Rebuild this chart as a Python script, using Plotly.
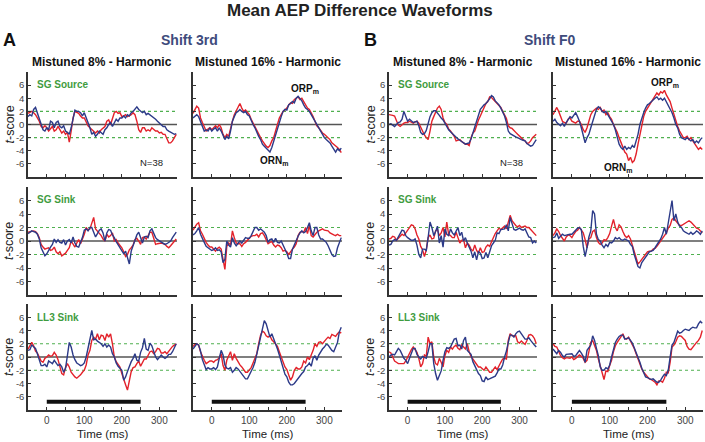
import plotly.graph_objects as go

W, H = 705, 442

# time axis of the difference waveforms (ms re: stimulus onset)
TIME_MS = list(range(-50, 350, 5))

# ---- Shift 3rd : SG Source ----
s3_m8_src_red = [1.7, 1.9, 2.0, 1.8, 1.5, 1.0, 0.5, -0.3, -0.5, -0.2,
                 -0.5, -1.0, -0.6, -0.3, -1.0, -0.8, -0.3, -0.8, -1.3, -1.0,
                 -1.5, -1.2, -2.7, -1.0, 1.0, 2.0, 1.8, 1.7, 1.3, 1.0,
                 1.0, 0.3, -0.2, -0.5, -0.8, -1.0, -1.3, -1.0, -1.3, -0.8,
                 -0.5, -0.3, 0.5, 0.7, 0.0, 1.0, 1.8, 2.0, 1.7, 1.8,
                 1.2, 1.3, 1.5, 1.2, 1.3, 1.5, 1.8, 1.5, 0.5, -0.8,
                 -1.2, -0.5, -0.5, -1.0, -0.8, -1.0, -0.5, -0.8, -1.0, -1.0,
                 -1.3, -1.2, -1.5, -1.5, -2.2, -2.8, -2.8, -2.5, -2.0, -1.5]
s3_m8_src_blue = [1.2, 1.5, 1.3, 2.3, 2.6, 1.8, 0.8, 0.2, -0.8, -1.0,
                  -0.5, -0.8, 0.5, 0.3, -0.5, 0.3, 0.5, -0.3, -0.5, -0.2,
                  -1.0, -1.2, -1.5, -0.5, 1.0, 2.2, 2.0, 2.0, 1.8, 1.3,
                  1.8, 1.0, 0.5, -0.5, -1.5, -1.2, -1.8, -1.5, -1.0, -1.2,
                  -1.5, -0.8, -0.5, 0.0, 0.3, -0.3, 0.3, 0.8, 0.5, 1.0,
                  1.0, 1.3, 1.0, 1.5, 1.3, 1.8, 2.0, 2.3, 2.7, 2.3,
                  2.0, 1.8, 2.0, 1.5, 1.7, 1.5, 1.3, 1.0, 0.8, 0.5,
                  0.2, 0.0, -0.3, -0.3, -0.8, -1.0, -1.2, -1.3, -1.5, -1.4]
s3_m16_src_red = [1.7, 2.3, 2.8, 2.5, 1.0, 0.3, -0.5, -1.0, -0.7, -0.5,
                  -0.8, -0.5, -0.2, -0.5, 0.0, -0.5, -1.5, -2.0, -1.5, -1.8,
                  -0.5, 0.5, 1.5, 2.0, 2.5, 3.2, 2.5, 2.0, 2.2, 1.8,
                  1.5, 0.8, 0.2, -0.3, -0.8, -1.5, -2.0, -2.5, -3.0, -3.3,
                  -3.5, -3.2, -2.5, -2.0, -1.0, 0.0, 1.0, 1.5, 2.0, 2.2,
                  2.5, 3.0, 3.3, 3.2, 3.8, 4.0, 4.2, 3.8, 4.0, 3.5,
                  3.0, 2.5, 2.3, 1.8, 1.2, 0.5, -0.2, -0.5, -1.0, -1.3,
                  -1.5, -1.8, -2.0, -2.3, -2.8, -3.0, -3.2, -3.5, -3.8, -4.3]
s3_m16_src_blue = [1.0, 1.3, 1.5, 1.2, 0.5, -0.3, -1.0, -0.8, -1.0, -0.5,
                   -1.0, -0.7, -0.5, -1.0, -0.5, -1.0, -1.8, -2.3, -1.8, -2.2,
                   -1.0, 0.5, 1.2, 1.8, 2.0, 2.3, 2.0, 1.8, 2.0, 1.5,
                   1.3, 0.5, 0.0, -0.5, -1.2, -1.8, -2.3, -3.0, -3.3, -3.6,
                   -3.8, -4.2, -3.5, -2.5, -1.5, -0.5, 0.5, 1.2, 2.0, 2.3,
                   2.2, 3.0, 3.2, 3.5, 3.3, 4.0, 4.3, 4.0, 3.6, 3.0,
                   2.5, 2.3, 2.0, 1.5, 1.0, 0.3, 0.0, -0.5, -1.0, -1.5,
                   -2.0, -2.3, -2.5, -2.8, -3.3, -3.8, -4.2, -3.7, -4.0, -3.6]

# ---- Shift F0 : SG Source ----
f0_m8_src_red = [1.5, 1.5, 1.4, 1.3, 0.6, -0.1, -0.3, 0.0, 0.2, 0.3,
                 0.3, 0.5, 0.3, 0.2, 0.4, 0.5, 0.2, -0.5, -1.2, -1.6,
                 -2.0, -2.3, -1.0, 0.5, 1.2, 1.8, 2.5, 2.8, 2.3, 1.0,
                 0.3, 0.0, -0.7, -1.0, -1.4, -1.8, -2.5, -2.4, -2.3, -2.6,
                 -2.8, -3.0, -3.0, -3.2, -2.0, -1.3, -1.0, 0.0, 0.7, 1.3,
                 2.0, 2.8, 3.2, 3.5, 4.2, 4.1, 3.8, 3.6, 3.3, 3.0,
                 2.6, 2.0, 1.5, 0.9, -0.2, -0.5, -0.6, -1.0, -1.2, -1.5,
                 -1.8, -2.0, -2.3, -2.5, -2.9, -2.8, -2.5, -2.0, -1.7, -1.5]
f0_m8_src_blue = [0.0, 0.1, -0.1, -0.3, 0.0, 0.3, 0.4, 0.8, 2.0, 1.2,
                  0.5, 0.8, 0.6, 0.3, 0.4, 0.5, -0.2, -1.2, -1.5, -1.4,
                  -0.9, 0.3, 1.2, 1.8, 2.1, 2.1, 1.8, 1.4, 1.0, 0.7,
                  0.2, -0.4, -0.8, -1.1, -1.4, -1.7, -2.0, -2.2, -2.4, -2.6,
                  -2.9, -3.0, -2.9, -2.8, -2.2, -1.2, -0.3, 0.5, 1.4, 2.3,
                  2.7, 3.0, 3.2, 3.5, 3.9, 4.4, 4.2, 3.6, 3.3, 3.0,
                  2.5, 2.0, 1.3, 0.3, -1.0, -1.4, -1.6, -1.8, -1.9, -2.0,
                  -2.2, -2.3, -2.4, -2.5, -2.9, -3.1, -3.3, -3.2, -2.8, -2.3]
f0_m16_src_red = [1.5, 2.0, 2.6, 2.0, 1.2, 0.5, 0.3, 0.2, 0.8, 1.0,
                  0.5, 0.3, 0.2, 0.5, 0.5, 0.0, -0.8, -1.2, -0.5, 0.5,
                  1.5, 2.0, 2.3, 2.5, 2.3, 2.6, 2.0, 2.2, 1.5, 1.8,
                  1.2, 0.8, 0.0, -0.5, -1.2, -2.0, -2.8, -3.5, -4.2, -4.5,
                  -5.5, -5.0, -5.8, -5.5, -4.5, -3.0, -1.5, 0.0, 1.2, 2.0,
                  2.5, 3.0, 3.5, 3.8, 4.3, 4.8, 4.5, 5.0, 4.8, 5.2,
                  4.5, 4.0, 3.5, 2.5, 1.5, 0.5, -0.3, -1.0, -1.5, -2.0,
                  -2.0, -1.8, -2.3, -2.0, -2.5, -3.0, -3.3, -3.8, -3.5, -3.8]
f0_m16_src_blue = [0.5, 0.8, 0.3, 0.0, -0.2, 0.2, -0.3, 0.3, 0.8, 1.2,
                   1.0, 1.5, 1.8, 1.2, 0.5, -0.5, -1.8, -2.8, -2.0, -1.5,
                   -0.5, 0.5, 1.5, 2.3, 2.7, 2.5, 2.0, 1.8, 2.0, 1.5,
                   1.0, 0.5, 0.0, -0.8, -2.0, -3.0, -3.5, -3.8, -3.3, -3.8,
                   -3.5, -3.7, -3.2, -3.5, -2.5, -1.5, 0.0, 1.0, 1.8, 2.5,
                   3.0, 3.2, 3.5, 3.8, 4.0, 4.2, 3.8, 4.0, 3.7, 4.0,
                   3.5, 3.0, 2.5, 1.8, 1.0, 0.0, -0.5, -1.5, -2.0, -2.2,
                   -2.3, -2.0, -2.3, -2.5, -2.3, -2.8, -2.5, -2.8, -2.3, -2.0]

# ---- Shift 3rd : SG Sink ----
s3_m8_snk_red = [1.3, 1.4, 1.5, 1.5, 1.4, 1.1, 0.5, -0.5, -0.9, -1.2,
                 -1.1, -1.0, -1.4, -1.3, -0.9, -1.6, -1.9, -1.6, -2.2, -2.0,
                 -1.8, -1.4, -1.0, 0.0, -0.4, -0.9, -0.3, 0.2, -0.4, 0.2,
                 1.0, 2.0, 1.6, 1.8, 2.5, 3.5, 1.8, 1.5, 1.2, 0.8,
                 0.3, 0.0, 1.0, 0.6, 0.8, 1.2, 0.0, 0.2, -0.3, -0.6,
                 -1.0, -1.6, -2.3, -2.0, -1.3, -1.0, -0.6, 0.2, 0.4, 0.0,
                 -0.5, 0.5, 0.6, 0.3, 0.9, 1.3, 1.3, 0.5, -0.5, -0.4,
                 -0.3, -0.3, -0.4, -0.5, -0.8, -1.0, -0.7, -0.4, 0.0, 0.3]
s3_m8_snk_blue = [1.1, 1.3, 1.5, 1.4, 1.3, 1.0, 0.3, -1.0, -1.6, -2.2,
                  -1.9, -1.3, -0.9, -0.5, 0.3, -0.2, 0.2, -0.2, -0.3, 0.2,
                  -0.6, 0.0, 0.2, -0.3, 0.6, -0.3, -0.8, -0.9, -0.2, 0.5,
                  1.6, 1.8, 1.5, 2.0, 2.0, 1.3, 0.6, 1.1, 1.6, 1.8,
                  1.2, 0.0, 1.2, 1.7, 1.6, 0.9, 0.5, -0.1, -0.6, -1.1,
                  -1.5, -1.9, -1.5, -2.5, -3.4, -1.5, -0.7, 0.2, 0.9, 1.3,
                  0.4, -0.3, 0.6, 0.7, 0.5, 1.5, 1.8, 1.1, 0.5, 0.2,
                  0.0, -0.2, -0.4, -0.5, -0.4, -0.2, 0.0, 0.5, 1.0, 1.3]
s3_m16_snk_red = [1.6, 2.0, 2.5, 2.7, 1.5, 1.0, 0.3, -0.2, -0.6, -0.9,
                  -0.9, -1.2, -1.5, -1.1, -0.9, -1.2, -2.5, -4.2, -0.8, -0.3,
                  -0.6, 1.5, 0.5, -0.3, -0.4, -0.4, -0.8, -0.4, -0.2, 0.1,
                  0.3, 0.7, 0.8, 0.8, 1.0, 0.6, 1.1, 1.2, 0.8, 0.2,
                  -0.4, -0.2, -0.1, -0.6, -0.9, -0.6, -0.7, -1.0, -1.5, -1.4,
                  -1.6, -2.0, -1.5, -1.2, -0.9, -0.4, 0.8, 1.3, 1.4, 1.3,
                  2.0, 1.1, 2.3, 0.8, 0.6, 1.0, 1.3, 1.5, 1.6, 1.8,
                  1.6, 1.5, 1.5, 1.2, 1.0, 0.9, 0.8, 1.0, 0.8, 0.8]
s3_m16_snk_blue = [0.9, 1.1, 1.5, 2.0, 1.0, 0.5, -0.2, -0.8, -1.0, -1.2,
                   -1.4, -1.3, -1.0, -1.4, -1.3, -1.6, -3.2, -2.7, 0.0, -0.6,
                   -0.9, 0.5, -0.3, -0.7, -0.4, 0.0, -0.3, 0.2, 0.5, 0.4,
                   0.4, 0.8, 1.5, 2.0, 2.0, 1.6, 1.8, 1.6, 1.3, 0.8,
                   -0.2, 0.2, 0.3, -0.2, 0.4, -0.2, -0.3, 0.0, -0.6, -1.1,
                   -1.8, -2.6, -2.6, -1.2, -0.5, -0.1, 0.7, 1.2, 1.5, 1.2,
                   1.4, 2.0, 2.7, 1.5, 0.8, 2.0, 2.0, 0.9, 0.3, 0.3,
                   0.1, -0.2, -0.7, -1.5, -2.0, -2.3, -2.2, -1.0, -0.1, 0.5]

# ---- Shift F0 : SG Sink ----
f0_m8_snk_red = [0.3, 0.4, 0.7, 0.6, 0.1, 0.4, 0.7, 1.0, 0.8, 1.2,
                 1.7, 2.1, 2.4, 2.3, 1.8, 0.9, 0.3, -0.8, -1.3, -2.3,
                 -1.3, 0.5, 0.9, 0.3, 0.4, 1.5, 1.7, 0.8, 1.2, 2.0,
                 0.6, 2.8, 1.0, 0.8, 0.5, 0.5, 1.3, 0.5, -0.3, 0.1,
                 0.2, -1.0, -0.3, -0.6, -1.2, -1.5, -0.6, -1.4, -1.8, -1.0,
                 -1.7, -1.6, -0.9, -0.6, -0.8, -0.1, 0.6, 1.1, 1.5, 1.9,
                 1.7, 2.0, 2.2, 1.8, 3.0, 3.8, 3.0, 2.6, 2.3, 2.1,
                 2.3, 2.0, 2.1, 2.2, 2.0, 2.0, 1.7, 1.4, 1.2, 0.8]
f0_m8_snk_blue = [-0.6, -0.5, 0.0, 0.2, 0.1, 0.6, 1.1, 1.6, 1.5, 0.8,
                  0.5, 0.3, 0.1, 0.1, 0.3, -0.6, -2.0, -2.5, -1.2, -1.2,
                  -1.4, 0.5, 2.8, 2.0, 0.8, 1.4, 2.2, -0.3, 0.8, -0.9,
                  1.8, 1.0, 0.8, 1.8, 1.2, 0.9, 1.6, 2.0, 0.8, 1.3,
                  0.0, 0.5, -0.3, -0.8, -1.5, -2.5, -1.6, -2.8, -1.6, -1.8,
                  -2.6, -2.5, -1.7, -2.5, -1.4, -0.7, -0.3, 0.1, 1.2, 1.1,
                  1.7, 1.8, 1.8, 2.4, 1.5, 3.5, 2.5, 1.7, 1.6, 1.8,
                  1.9, 1.7, 1.6, 1.8, 1.1, 0.6, 0.5, -0.3, 0.0, -0.3]
f0_m16_snk_red = [0.8, 1.2, 1.8, 1.4, 0.8, 0.3, 0.0, 0.6, 0.9, 0.8,
                  0.5, 1.0, 1.4, 1.6, 2.0, 1.6, 1.2, 0.2, -1.0, 0.3,
                  0.5, 1.4, 1.6, 0.5, -0.2, -0.5, -0.3, 0.2, 0.1, 0.5,
                  1.1, 2.2, 3.2, 2.0, 1.5, 2.4, 2.1, 1.4, 0.8, 0.5,
                  0.8, 0.3, -0.6, -1.6, -2.4, -3.4, -3.1, -2.7, -2.4, -2.0,
                  -1.6, -1.5, -1.5, -1.2, -1.1, -0.8, -0.4, 0.0, 0.4, 0.8,
                  1.2, 1.9, 2.3, 3.2, 3.4, 3.0, 2.6, 2.3, 2.3, 2.5,
                  2.7, 2.9, 3.0, 2.8, 2.5, 2.3, 1.9, 1.8, 1.5, 1.2]
f0_m16_snk_blue = [0.5, 0.6, 1.2, 0.4, 0.7, 1.0, 0.8, 0.9, 1.0, 1.0,
                   1.0, 1.3, 1.6, 1.9, 2.0, 1.7, -0.8, -2.3, -1.0, 0.6,
                   1.5, 4.5, 4.0, 1.0, 0.2, 0.0, -0.6, -1.0, -0.5, -0.8,
                   -0.2, -0.3, 0.0, 0.5, 0.3, 0.5, 0.2, 0.1, 0.3, 0.2,
                   0.0, -0.5, -0.8, -2.0, -3.0, -3.8, -4.0, -3.2, -2.8, -2.3,
                   -2.0, -1.6, -1.5, -1.4, -1.0, -0.6, -0.2, 0.3, 1.0, 2.0,
                   1.0, 2.8, 4.0, 6.0, 3.0, 4.0, 2.8, 2.2, 2.0, 1.5,
                   1.3, 1.1, 1.0, 1.3, 1.0, 1.2, 1.5, 1.3, 1.0, 1.5]

# ---- Shift 3rd : LL3 Sink ----
s3_m8_ll3_red = [1.2, 1.7, 2.2, 1.7, 0.9, 0.6, -0.1, -0.6, -0.8, -0.2,
                 0.0, 0.3, 0.1, 0.2, 0.7, 0.3, -0.4, -1.3, -2.5, -2.7,
                 -1.6, -1.0, -1.5, -2.3, -2.7, -3.0, -3.2, -3.0, -2.7, -2.3,
                 -2.0, -1.2, 0.3, 1.0, 2.5, 3.0, 2.7, 3.5, 2.6, 3.3,
                 3.2, 2.5, 3.5, 3.0, 3.5, 2.0, 0.0, -0.7, -1.2, -1.5,
                 -2.5, -3.5, -4.2, -5.0, -3.3, -2.2, -1.6, -1.5, -1.0, -0.6,
                 -1.4, -0.8, -0.3, -0.3, 0.4, 0.8, 0.9, 0.5, 0.8, 1.3,
                 1.2, 0.6, 0.6, 0.8, 0.5, 0.9, 1.2, 1.6, 1.8, 2.0]
s3_m8_ll3_blue = [1.0, 1.1, 1.8, 1.6, 1.3, 0.5, -0.6, -1.3, -1.3, -1.1,
                  -1.5, -0.6, -0.8, -1.0, -0.5, -1.0, -1.3, -1.1, -1.5, -2.3,
                  -1.7, 0.2, 2.2, 1.5, 0.3, -0.4, -0.9, -1.1, -1.3, -1.2,
                  -0.9, 0.0, 1.3, 2.5, 4.0, 2.6, 2.7, 2.4, 2.2, 2.0,
                  1.6, 2.0, 1.5, 1.8, 1.5, 0.5, 0.0, -0.9, -1.4, -1.7,
                  -2.0, -3.5, -3.0, -2.2, -1.3, -0.7, -0.2, 0.5, -0.5, -0.6,
                  0.7, 1.4, 2.8, 1.2, 1.0, 2.1, 1.7, 0.9, 0.0, -0.4,
                  -0.1, 0.3, 0.0, -0.2, 0.0, 0.4, 0.4, 0.8, 1.4, 2.0]
s3_m16_ll3_red = [1.6, 1.9, 2.0, 1.8, 0.8, 0.0, -0.5, -1.0, -0.8, -0.6,
                  -0.6, -0.8, -0.5, -0.4, -0.1, 0.5, -1.3, -2.0, -0.5, 0.3,
                  0.8, -0.5, 0.5, -0.2, -0.8, -1.2, -1.5, -1.9, -2.3, -2.3,
                  -1.9, -1.6, -0.9, -0.2, 0.5, 2.0, 3.3, 3.9, 3.7, 3.2,
                  3.0, 3.2, 2.6, 2.3, 2.0, 1.6, 0.8, 0.0, -0.8, -1.5,
                  -1.9, -2.9, -3.5, -3.0, -2.0, -1.6, -1.8, -1.8, -1.5, -0.6,
                  -0.9, 0.0, -0.4, 0.3, 1.0, 2.0, 1.6, 2.2, 2.3, 2.0,
                  2.4, 2.7, 3.0, 2.8, 3.4, 3.2, 3.1, 3.5, 3.8, 3.6]
s3_m16_ll3_blue = [1.2, 1.6, 2.0, 1.8, 0.9, -0.4, -1.3, -1.9, -1.6, -1.8,
                   -1.8, -1.6, -1.9, -1.5, -0.2, 1.0, 0.3, -1.2, -1.7, -1.8,
                   -1.6, -2.3, -2.0, -1.6, -1.8, -2.2, -2.5, -2.9, -3.3, -3.3,
                   -2.8, -2.2, -1.6, -0.8, 0.5, 1.8, 3.2, 4.7, 5.5, 5.0,
                   3.8, 3.0, 3.5, 2.8, 2.2, 1.2, 0.3, -0.8, -1.8, -2.6,
                   -3.0, -3.8, -4.2, -4.2, -4.0, -3.6, -3.2, -2.8, -2.5, -2.2,
                   -1.5, -1.3, -0.9, -1.4, -0.2, 0.2, -0.5, 0.3, 0.8, 1.2,
                   1.5, 1.9, 1.8, 1.4, 1.0, 0.8, 1.4, 2.2, 3.8, 4.5]

# ---- Shift F0 : LL3 Sink ----
f0_m8_ll3_red = [0.8, 0.6, 0.0, -0.6, -0.8, -1.0, -1.0, -1.0, -1.0, -0.6,
                 0.0, 0.6, 1.1, 1.5, 1.1, 0.7, -0.2, -1.5, -1.0, 0.3,
                 0.1, 3.0, 2.0, 2.3, 0.0, -1.0, -1.2, -0.2, -0.8, -1.5,
                 0.2, 1.0, 0.7, 1.5, 1.2, 1.6, 1.8, 1.3, 1.1, 1.8,
                 1.5, 1.2, 2.0, 0.8, 0.1, -0.3, -0.6, -1.1, -1.5, -1.5,
                 -1.7, -2.0, -1.5, -1.9, -2.3, -2.3, -1.8, -1.5, -1.9, -1.2,
                 -0.8, -0.3, -0.2, -0.3, 2.5, 3.5, 3.2, 3.2, 3.2, 2.3,
                 2.1, 2.4, 2.2, 1.9, 2.5, 3.3, 3.4, 3.2, 2.8, 2.0]
f0_m8_ll3_blue = [0.0, 0.3, 0.4, 0.3, 0.8, 1.3, 1.0, 0.3, -0.2, -0.5,
                  -1.0, -0.2, 0.7, 1.3, 1.3, 0.4, 0.0, -0.3, 0.1, 0.0,
                  -0.2, 0.8, 2.0, 2.0, -1.0, -2.5, -3.5, -2.8, -2.1, -0.5,
                  0.8, 1.4, 1.3, 1.5, 2.2, 2.7, 2.8, 1.7, 1.8, 1.2,
                  2.5, 3.0, 1.0, 0.7, 0.4, -0.7, -1.3, -2.1, -2.5, -2.8,
                  -3.6, -3.7, -3.0, -3.4, -3.3, -3.1, -3.0, -2.9, -2.4, -1.8,
                  -1.8, -1.2, 0.0, 0.9, 2.2, 3.3, 3.3, 3.0, 3.5, 3.8,
                  3.9, 3.5, 3.1, 2.7, 2.7, 2.9, 2.5, 2.1, 1.8, 1.5]
f0_m16_ll3_red = [2.0, 1.6, 1.5, 0.7, 0.2, -0.1, -0.3, -0.1, -0.1, -0.2,
                  0.0, -0.4, -0.2, 0.1, 0.3, 0.1, -0.2, -0.8, -0.5, 0.8,
                  2.2, 2.5, 1.8, 1.0, -0.3, -1.3, -2.2, -3.4, -2.1, -2.2,
                  -1.3, -0.5, 0.8, 1.7, 2.2, 2.7, 3.2, 3.5, 2.8, 2.7,
                  3.0, 2.5, 2.0, 1.3, 0.5, -0.3, -1.0, -1.8, -2.3, -2.6,
                  -3.0, -3.3, -3.4, -3.6, -3.8, -4.2, -3.6, -3.6, -3.8, -3.2,
                  -2.3, -2.4, -0.8, 1.5, 1.8, 2.3, 3.0, 3.2, 3.1, 2.8,
                  2.5, 1.6, 1.2, 1.1, 1.5, 1.8, 2.2, 2.5, 3.0, 4.0]
f0_m16_ll3_blue = [1.2, 0.8, 0.5, 1.0, 0.7, 0.2, 0.0, 0.4, 0.4, 0.4,
                   0.5, 0.1, 0.2, 0.6, 1.0, 0.6, 0.1, -0.8, 1.0, 1.4,
                   1.8, 3.2, 2.5, 1.3, 0.2, -1.5, -2.0, -2.0, -1.6, -1.8,
                   -1.2, 0.0, 1.3, 2.2, 2.7, 3.1, 3.3, 3.3, 2.7, 2.8,
                   2.9, 2.5, 2.1, 1.4, 0.7, 0.0, -0.8, -1.7, -2.4, -3.0,
                   -3.1, -3.3, -3.4, -3.3, -3.5, -3.8, -3.8, -3.5, -3.0, -2.6,
                   -2.8, -2.0, 0.0, 1.8, 2.2, 3.2, 3.9, 3.6, 3.7, 4.0,
                   4.2, 4.1, 4.0, 4.3, 4.5, 4.4, 4.4, 5.0, 5.4, 5.1]

GROUP_LETTERS = ["A", "B"]
GROUP_TITLES = ["Shift 3rd", "Shift F0"]
COL_TITLES = ["Mistuned 8% - Harmonic", "Mistuned 16% - Harmonic",
              "Mistuned 8% - Harmonic", "Mistuned 16% - Harmonic"]
ROW_NAMES = ["SG Source", "SG Sink", "LL3 Sink"]
Y_TICKS = [-6, -4, -2, 0, 2, 4, 6]
X_LABELED = [0, 100, 200, 300]
X_MINOR_STEP = 50
SIG_LEVEL = 2
STIM_ON, STIM_OFF = 0, 250
STIM_BAR_Y = -6.75
N_LABEL = "N=38"

# rows x cols: (red, blue)
PANELS = [
    [(s3_m8_src_red, s3_m8_src_blue), (s3_m16_src_red, s3_m16_src_blue),
     (f0_m8_src_red, f0_m8_src_blue), (f0_m16_src_red, f0_m16_src_blue)],
    [(s3_m8_snk_red, s3_m8_snk_blue), (s3_m16_snk_red, s3_m16_snk_blue),
     (f0_m8_snk_red, f0_m8_snk_blue), (f0_m16_snk_red, f0_m16_snk_blue)],
    [(s3_m8_ll3_red, s3_m8_ll3_blue), (s3_m16_ll3_red, s3_m16_ll3_blue),
     (f0_m8_ll3_red, f0_m8_ll3_blue), (f0_m16_ll3_red, f0_m16_ll3_blue)],
]
for row in PANELS:
    for red, blue in row:
        assert len(red) == len(TIME_MS) and len(blue) == len(TIME_MS)

RED = "#e3222b"
BLUE = "#2c3a88"
GREEN = "#3f9c3f"
SLATE = "#3e4b7c"
AXIS = "#333333"
FONT = "Liberation Sans, Arial, sans-serif"

# pixel frames of the panels
COL_PX = [(28, 177), (193, 342), (389, 537), (553, 703)]
ROW_PX = [(72, 177), (187, 295), (304, 410)]


def fx(px):
    return px / W


def fy(py):
    return 1 - py / H


fig = go.Figure()
layout = {}
shapes = []
annotations = []

for r in range(3):
    for c in range(4):
        n = r * 4 + c + 1
        xa = "x" if n == 1 else f"x{n}"
        ya = "y" if n == 1 else f"y{n}"
        red, blue = PANELS[r][c]

        fig.add_trace(go.Scatter(x=TIME_MS, y=red, xaxis=xa, yaxis=ya, mode="lines",
                                 line=dict(color=RED, width=1.4), hoverinfo="skip"))
        fig.add_trace(go.Scatter(x=TIME_MS, y=blue, xaxis=xa, yaxis=ya, mode="lines",
                                 line=dict(color=BLUE, width=1.4), hoverinfo="skip"))
        if r == 2:
            fig.add_trace(go.Scatter(x=[STIM_ON, STIM_OFF], y=[STIM_BAR_Y, STIM_BAR_Y],
                                     xaxis=xa, yaxis=ya, mode="lines",
                                     line=dict(color="#111111", width=4), hoverinfo="skip"))

        left, right = COL_PX[c]
        top, bottom = ROW_PX[r]
        layout["xaxis" if n == 1 else f"xaxis{n}"] = dict(
            domain=[fx(left), fx(right)], anchor=ya, range=[-50, 347],
            showline=True, linecolor=AXIS, linewidth=1.5, ticks="inside",
            ticklen=3, tickwidth=1, tickcolor=AXIS, showgrid=False, zeroline=False,
            tickvals=X_LABELED, ticktext=[str(v) for v in X_LABELED],
            minor=dict(tick0=0, dtick=X_MINOR_STEP, ticks="inside", ticklen=3,
                       tickwidth=1, tickcolor=AXIS, showgrid=False),
            showticklabels=(r == 2),
            tickfont=dict(family=FONT, size=10, color="#444444"))
        layout["yaxis" if n == 1 else f"yaxis{n}"] = dict(
            domain=[fy(bottom), fy(top)], anchor=xa, range=[-8, 8],
            showline=True, linecolor=AXIS, linewidth=1.5, ticks="inside",
            ticklen=3, tickwidth=1, tickcolor=AXIS, showgrid=False, zeroline=False,
            tickvals=Y_TICKS, ticktext=[str(v) for v in Y_TICKS],
            showticklabels=(c in (0, 2)),
            tickfont=dict(family=FONT, size=9.5, color="#444444"))

        # reference lines: 0 and +/- significance level
        shapes.append(dict(type="line", xref=f"{xa} domain", yref=ya, x0=0, x1=1,
                           y0=0, y1=0, line=dict(color="#555555", width=1.5), layer="below"))
        for lev in (SIG_LEVEL, -SIG_LEVEL):
            shapes.append(dict(type="line", xref=f"{xa} domain", yref=ya, x0=0, x1=1,
                               y0=lev, y1=lev, line=dict(color="#4fb04f", width=1.1, dash="dot"),
                               layer="below"))

        if c in (0, 2):
            annotations.append(dict(text=f"<b>{ROW_NAMES[r]}</b>", x=fx(left + 7), y=fy(top + 13),
                                    xref="paper", yref="paper", xanchor="left", yanchor="middle",
                                    showarrow=False, font=dict(family=FONT, size=10, color=GREEN)))
            annotations.append(dict(text="<i>t</i>-score", x=fx(left - 19), y=fy((top + bottom) / 2),
                                    xref="paper", yref="paper", textangle=-90,
                                    xanchor="center", yanchor="middle", showarrow=False,
                                    font=dict(family=FONT, size=12.5, color="#222222")))
        if r == 0:
            annotations.append(dict(text=f"<b>{COL_TITLES[c]}</b>", x=fx((left + right) / 2), y=fy(62),
                                    xref="paper", yref="paper", xanchor="center", yanchor="middle",
                                    showarrow=False, font=dict(family=FONT, size=12, color="#111111")))
        if r == 2:
            annotations.append(dict(text="Time (ms)", x=fx((left + right) / 2), y=fy(434),
                                    xref="paper", yref="paper", xanchor="center", yanchor="middle",
                                    showarrow=False, font=dict(family=FONT, size=11.5, color="#222222")))

# group headers
for g, (letter, title) in enumerate(zip(GROUP_LETTERS, GROUP_TITLES)):
    left = COL_PX[2 * g][0]
    right = COL_PX[2 * g + 1][1]
    annotations.append(dict(text=f"<b>{letter}</b>", x=fx(left - 19), y=fy(40), xref="paper", yref="paper",
                            xanchor="center", yanchor="middle", showarrow=False,
                            font=dict(family=FONT, size=18, color="#111111")))
    annotations.append(dict(text=f"<b>{title}</b>", x=fx((left + right) / 2 + 4), y=fy(40),
                            xref="paper", yref="paper", xanchor="center", yanchor="middle",
                            showarrow=False, font=dict(family=FONT, size=14, color=SLATE)))

# N and component labels in the top row
for px_left in (138, 498):
    annotations.append(dict(text=N_LABEL, x=fx(px_left), y=fy(162), xref="paper", yref="paper",
                            xanchor="left", yanchor="middle", showarrow=False,
                            font=dict(family=FONT, size=9.5, color="#222222")))
for label, px_left, py in [("ORP", 289, 89), ("ORN", 258, 161), ("ORP", 649, 83), ("ORN", 602, 168)]:
    annotations.append(dict(text=f"<b>{label}<sub>m</sub></b>", x=fx(px_left), y=fy(py),
                            xref="paper", yref="paper", xanchor="left", yanchor="middle",
                            showarrow=False, font=dict(family=FONT, size=10, color="#111111")))

annotations.append(dict(text="<b>Mean AEP Difference Waveforms</b>", x=fx(360), y=fy(10),
                        xref="paper", yref="paper", xanchor="center", yanchor="middle",
                        showarrow=False, font=dict(family=FONT, size=17, color="#222222")))

fig.update_layout(
    width=W, height=H,
    margin=dict(l=0, r=0, t=0, b=0),
    paper_bgcolor="white", plot_bgcolor="white",
    showlegend=False,
    shapes=shapes, annotations=annotations,
    **layout,
)

# drop the default page margin so the 705x442 figure sits at the window origin
fig.write_html("out.html", config={"displayModeBar": False},
               post_script="document.body.style.margin='0';")
